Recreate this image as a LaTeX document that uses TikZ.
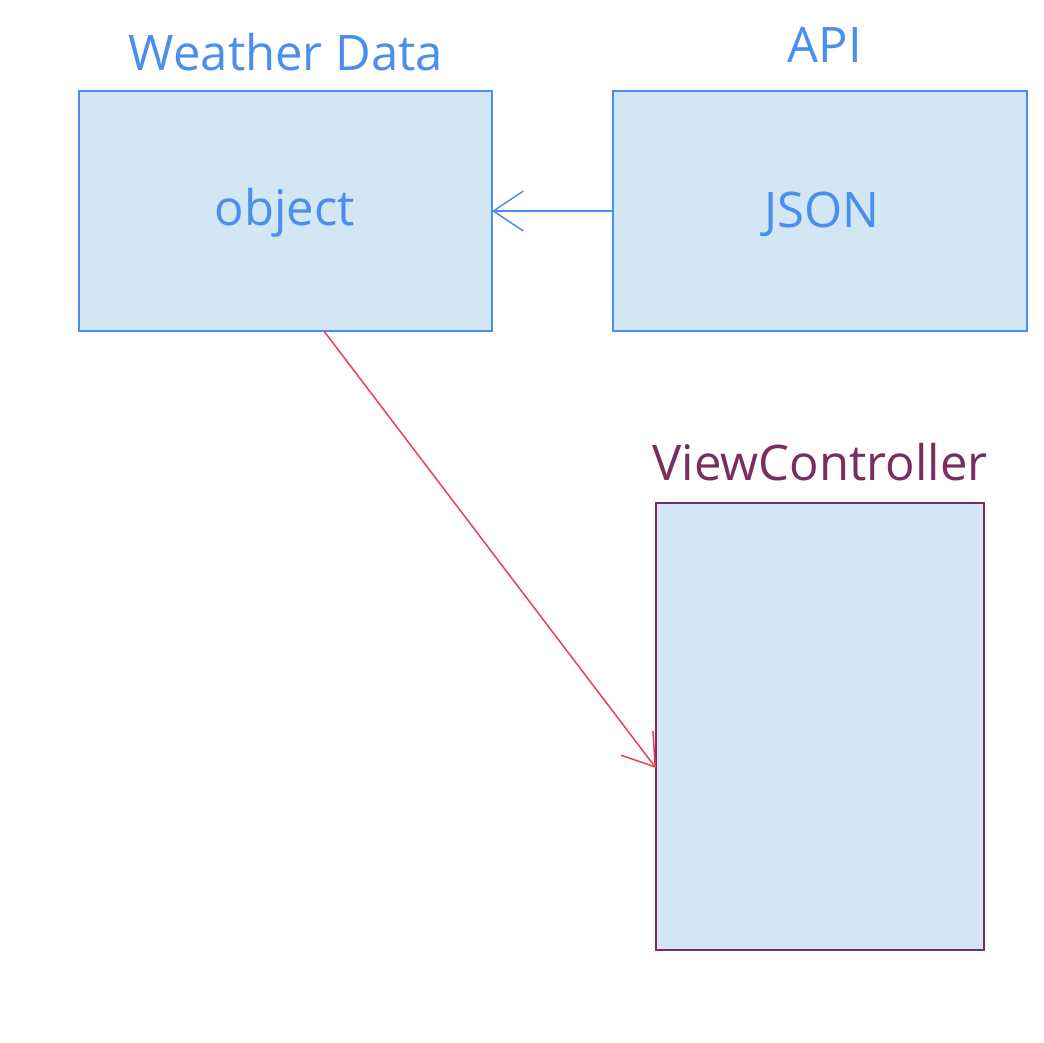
\documentclass[tikz,border=0pt]{standalone}
\usepackage{fontspec}
\setmainfont{Open Sans}
\usetikzlibrary{arrows.meta,calc}
\definecolor{boxfill}{HTML}{D2E6F4}
\definecolor{blueline}{HTML}{4A8EF0}
\definecolor{purpleline}{HTML}{7A2E5E}
\definecolor{redline}{HTML}{E8405A}
\tikzset{
  box/.style={draw=blueline, fill=boxfill, line width=1.5pt, inner sep=0pt, outer sep=0pt},
  vcbox/.style={draw=purpleline, fill=boxfill, line width=1.5pt, inner sep=0pt, outer sep=0pt},
  lbl/.style={font=\fontsize{49}{58}\selectfont, anchor=base, inner sep=0pt},
  bluetxt/.style={lbl, text=blueline},
  purpletxt/.style={lbl, text=purpleline},
  barb/.style={-{Straight Barb[length=30pt,width=40pt,line width=1.5pt]}, line width=1.5pt}
}
\begin{document}
\begin{tikzpicture}[x=1pt,y=-1pt]
\useasboundingbox[fill=white] (0,0) rectangle (1044,1042);
\node[box, minimum width=413pt, minimum height=240pt] (wd) at (285.5,211) {};
\node[box, minimum width=414pt, minimum height=240pt] (api) at (820,211) {};
\node[vcbox, minimum width=328pt, minimum height=447pt] (vc) at (820,726.5) {};
\node[bluetxt] (wdlbl) at (286,70) {Weather Data};
\node[bluetxt] (apilbl) at (825,62) {API};
\node[purpletxt] (vclbl) at (820,480) {ViewController};
\node[bluetxt] (obj) at (285,225) {object};
\node[bluetxt] (json) at (822,227) {JSON};
\draw[barb, draw=blueline] (api.west) -- (wd.east);
\coordinate (rs) at ($(wd.south west)!0.593!(wd.south east)$);
\coordinate (re) at ($(vc.north west)!0.593!(vc.south west)$);
\draw[barb, draw=redline] (rs) -- (re);
\end{tikzpicture}
\end{document}
